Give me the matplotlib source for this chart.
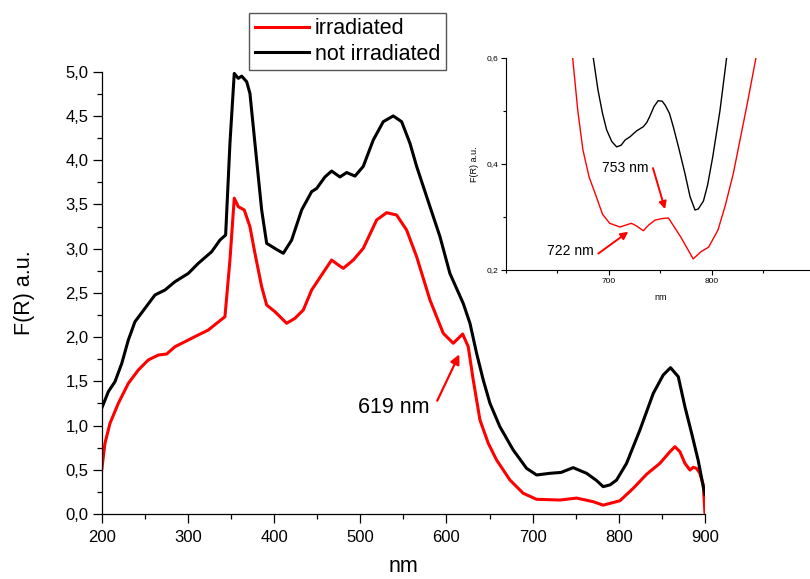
import numpy as np
import matplotlib
matplotlib.use('Agg')
import matplotlib.pyplot as plt
from matplotlib.ticker import MultipleLocator, FuncFormatter

plt.rcParams['font.family'] = ['Liberation Sans', 'DejaVu Sans']

# main spectrum
nm_black = [200, 207.7, 215.4, 223.2, 230.9, 238.6, 250.2, 261.8, 273.4, 285, 300.5, 312, 327.6, 337.2,
            343.8, 348.8, 353.8, 358.5, 362.4, 368.2, 372, 377.8, 385.6, 391.4, 403, 410.7, 420.4, 432,
            443.6, 449.4, 459, 466.8, 476.4, 484.2, 493.9, 503.5, 515.1, 526.7, 538.3, 548, 557.7, 565.4,
            580.9, 592.5, 604, 619.5, 627.3, 635, 642.7, 650.5, 662, 677.5, 693, 704.6, 720, 733, 747,
            762.6, 774, 781.9, 790, 797.4, 809, 824.5, 840, 851.5, 860, 869, 876.7, 884.5, 892, 898, 900]
black = [1.195, 1.383, 1.496, 1.70, 1.967, 2.174, 2.325, 2.476, 2.532, 2.626, 2.72, 2.833, 2.965, 3.097,
         3.154, 4.19, 4.98, 4.925, 4.95, 4.887, 4.755, 4.19, 3.437, 3.06, 2.99, 2.947, 3.097, 3.437,
         3.644, 3.68, 3.81, 3.877, 3.81, 3.86, 3.82, 3.93, 4.228, 4.435, 4.50, 4.435, 4.19, 3.93,
         3.474, 3.135, 2.72, 2.38, 2.156, 1.816, 1.515, 1.251, 0.987, 0.723, 0.516, 0.441, 0.46, 0.47, 0.524,
         0.46, 0.38, 0.309, 0.33, 0.384, 0.573, 0.95, 1.364, 1.571, 1.654, 1.552, 1.213, 0.912, 0.61, 0.309, 0.22]

nm_red = [200, 203.8, 209.6, 219.3, 230.9, 242.5, 254, 265.7, 275.4, 285, 296.6, 312, 323.7, 333.4, 343,
          348.8, 353.8, 358.5, 365.4, 372, 377.8, 385.6, 391.4, 401, 414.6, 424.2, 433.9, 443.6, 459,
          466.8, 474.5, 480.3, 491.9, 503.5, 519, 530.6, 542.2, 553.8, 565.4, 580.9, 596.3, 607.9, 618.8,
          625.3, 631.1, 638.9, 648.5, 658.2, 673.7, 689.1, 704.6, 731.7, 751, 770.3, 781.9, 801.3, 816.7,
          832.2, 847.7, 859.3, 865.1, 870.9, 876.7, 882.5, 886.3, 890.2, 894, 898, 900]
red = [0.497, 0.80, 1.025, 1.251, 1.477, 1.628, 1.741, 1.797, 1.809, 1.891, 1.948, 2.024, 2.08, 2.156, 2.23,
       2.87, 3.57, 3.474, 3.437, 3.248, 2.947, 2.57, 2.363, 2.287, 2.156, 2.212, 2.306, 2.532, 2.758,
       2.871, 2.815, 2.777, 2.871, 3.003, 3.324, 3.406, 3.38, 3.21, 2.909, 2.419, 2.043, 1.93, 2.035,
       1.891, 1.515, 1.063, 0.80, 0.61, 0.384, 0.234, 0.166, 0.158, 0.18, 0.139, 0.10, 0.15, 0.29,
       0.449, 0.573, 0.704, 0.761, 0.704, 0.573, 0.497, 0.528, 0.516, 0.46, 0.328, 0.0]

# inset curves
ins_nm_black = [678, 685, 689.6, 694, 698, 703, 707.7, 712, 716, 720.7, 727, 733.6, 737, 740, 744, 748,
                752, 755, 759, 762.7, 768, 774, 779, 783.8, 787, 792, 796, 801, 808, 814.5, 820]
ins_black = [0.70, 0.60, 0.539, 0.495, 0.464, 0.442, 0.432, 0.435, 0.445, 0.451, 0.462, 0.470, 0.478,
             0.49, 0.508, 0.519, 0.518, 0.51, 0.495, 0.47, 0.43, 0.382, 0.338, 0.313, 0.315, 0.33, 0.36,
             0.413, 0.50, 0.60, 0.68]
ins_nm_red = [658, 665, 670, 675, 681, 688, 694, 701, 711, 722, 727, 733.6, 739, 745, 752, 758, 770, 782,
              790, 797, 806, 813, 821, 828, 834, 843, 850]
ins_red = [0.70, 0.60, 0.50, 0.426, 0.375, 0.338, 0.305, 0.288, 0.281, 0.288, 0.283, 0.274, 0.285,
           0.294, 0.297, 0.298, 0.262, 0.221, 0.235, 0.243, 0.275, 0.32, 0.382, 0.45, 0.508, 0.60, 0.70]

comma = FuncFormatter(lambda v, p: ('%.1f' % v).replace('.', ','))
red_arrow = dict(arrowstyle='-|>', color='#ff0000', lw=1.6, mutation_scale=14, shrinkA=0, shrinkB=0)

fig = plt.figure(figsize=(8.10, 5.79), dpi=100)
W, H = 810.0, 579.0

# main plot
ax = fig.add_axes([101.7 / W, 1 - 514 / H, (705 - 101.7) / W, (514 - 71.7) / H])
l1, = ax.plot(nm_red, red, color='#ff0000', lw=2.2, label='irradiated')
l2, = ax.plot(nm_black, black, color='black', lw=2.2, label='not irradiated')
ax.set_xlim(200, 900)
ax.set_ylim(0, 5.0)
for s in ['top', 'right']:
    ax.spines[s].set_visible(False)
for s in ['left', 'bottom']:
    ax.spines[s].set_linewidth(0.9)
ax.xaxis.set_major_locator(MultipleLocator(100))
ax.xaxis.set_minor_locator(MultipleLocator(50))
ax.yaxis.set_major_locator(MultipleLocator(0.5))
ax.yaxis.set_minor_locator(MultipleLocator(0.25))
ax.yaxis.set_major_formatter(comma)
ax.tick_params(which='major', direction='out', length=6.5, width=0.9, labelsize=12)
ax.tick_params(which='minor', direction='out', length=3.5, width=0.9)
ax.tick_params(axis='x', pad=5)
ax.tick_params(axis='y', pad=3)
ax.set_xlabel('nm', fontsize=15.5, labelpad=8)
ax.set_ylabel('F(R) a.u.', fontsize=15.5, labelpad=22)

ax.text(538.8, 1.2, '619 nm', fontsize=15.5, ha='center', va='center')
ax.annotate('', xy=(614.9, 1.805), xytext=(589.3, 1.28), arrowprops=red_arrow)

fig.legend(handles=[l1, l2], loc='upper left', bbox_to_anchor=(249.3 / W, 1 - 12.7 / H), fontsize=15.5,
           frameon=True, fancybox=False, edgecolor='#555555', framealpha=1, borderpad=0.25,
           labelspacing=0.22, handlelength=2.5, handletextpad=0.3, borderaxespad=0)

# inset
ins = fig.add_axes([505.7 / W, 1 - 270 / H, 309 / W, (270 - 57.7) / H])
ins.patch.set_alpha(0)
ins.plot(ins_nm_red, ins_red, color='#ff0000', lw=1.0)
ins.plot(ins_nm_black, ins_black, color='black', lw=1.0)
ins.set_xlim(600, 900)
ins.set_ylim(0.2, 0.6)
for s in ['top', 'right']:
    ins.spines[s].set_visible(False)
for s in ['left', 'bottom']:
    ins.spines[s].set_linewidth(0.8)
ins.set_xticks([700, 800])
ins.xaxis.set_minor_locator(MultipleLocator(50))
ins.yaxis.set_major_locator(MultipleLocator(0.2))
ins.yaxis.set_minor_locator(MultipleLocator(0.1))
ins.yaxis.set_major_formatter(comma)
ins.tick_params(which='major', direction='out', length=3.5, width=0.8, labelsize=6, pad=2)
ins.tick_params(which='minor', direction='out', length=2.2, width=0.8)
ins.set_xlabel('nm', fontsize=6.5, labelpad=6)
ins.set_ylabel('F(R) a.u.', fontsize=6.5, labelpad=5)

ins.text(715.8, 0.392, '753 nm', fontsize=10, ha='center', va='center')
ins.annotate('', xy=(754.7, 0.3146), xytext=(743, 0.392), arrowprops=dict(red_arrow, lw=1.4, mutation_scale=11))
ins.text(662.4, 0.236, '722 nm', fontsize=10, ha='center', va='center')
ins.annotate('', xy=(719, 0.272), xytext=(689.9, 0.231), arrowprops=dict(red_arrow, lw=1.4, mutation_scale=11))

fig.savefig('out.png', dpi=100)
